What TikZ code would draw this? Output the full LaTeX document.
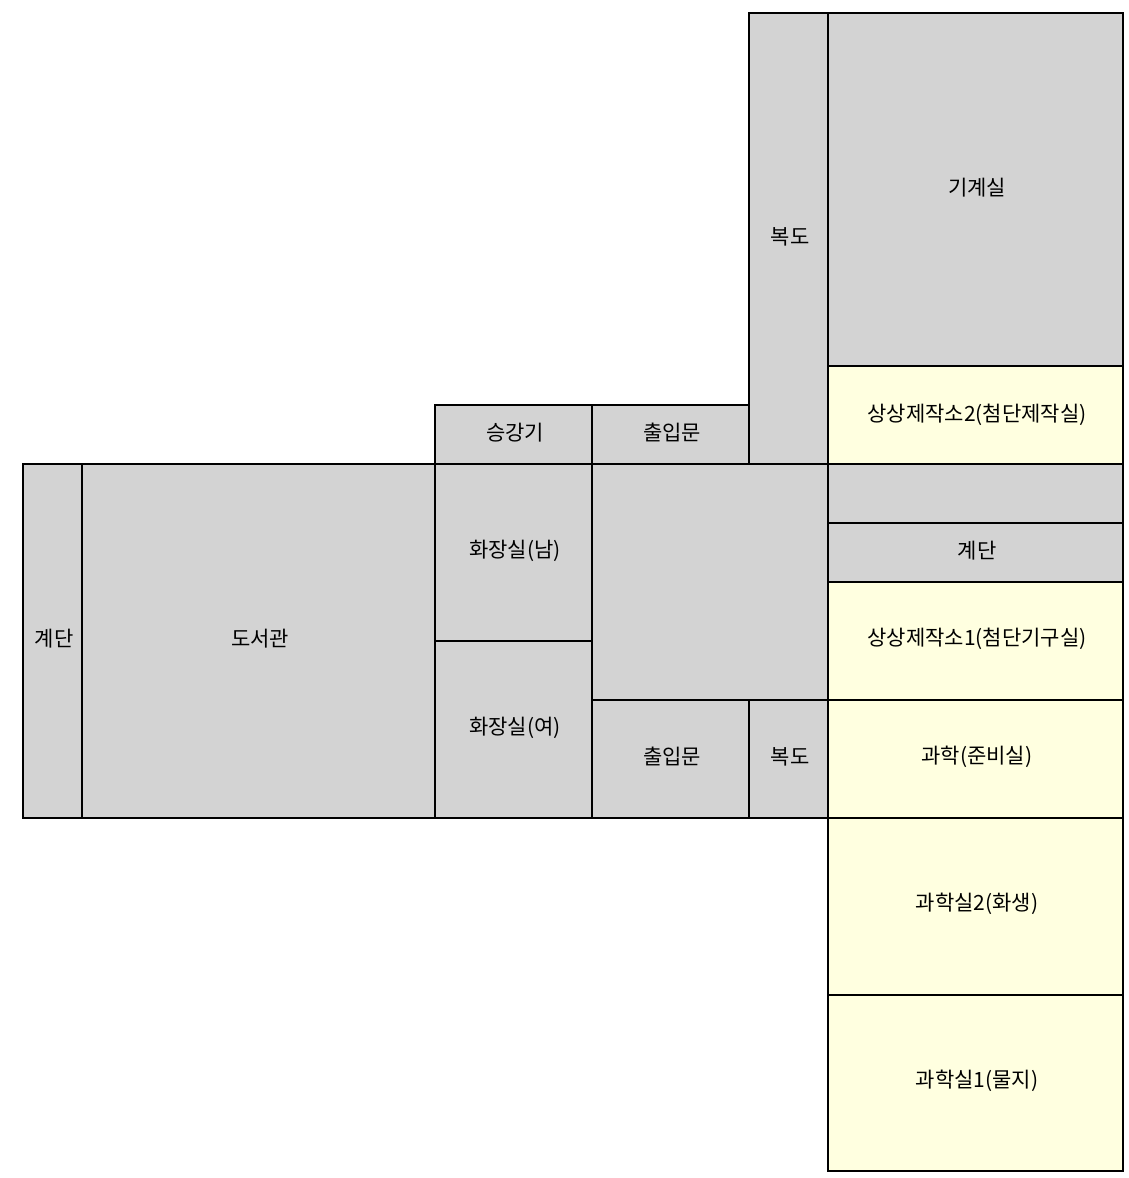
\documentclass[tikz,border=0pt]{standalone}
\usepackage{fontspec}
\setmainfont{Noto Sans CJK KR}
\definecolor{roomgray}{HTML}{D3D3D3}
\definecolor{labyellow}{HTML}{FFFFE0}
\tikzset{
    x=1pt,y=-1pt,
    room/.style={draw=black,line width=1.5pt,fill=roomgray},
    lab/.style={room,fill=labyellow},
    roomlabel/.style={font=\fontsize{21}{24}\selectfont,text=black,xshift=1.5pt,yshift=-1.5pt}
}
\begin{document}
\begin{tikzpicture}
    \useasboundingbox (0,0) rectangle (1128,1178);
    % gray rooms
    \draw[room] (749,13) rectangle (828,464);
    \draw[room] (828,13) rectangle (1123,366);
    \draw[room] (435,405) rectangle (592,464);
    \draw[room] (592,405) rectangle (749,464);
    \draw[room] (23,464) rectangle (82,818);
    \draw[room] (82,464) rectangle (435,818);
    \draw[room] (435,464) rectangle (592,641);
    \draw[room] (435,641) rectangle (592,818);
    \draw[room] (592,464) rectangle (828,700);
    \draw[room] (828,464) rectangle (1123,523);
    \draw[room] (828,523) rectangle (1123,582);
    \draw[room] (592,700) rectangle (749,818);
    \draw[room] (749,700) rectangle (828,818);
    % yellow rooms
    \draw[lab] (828,366) rectangle (1123,464);
    \draw[lab] (828,582) rectangle (1123,700);
    \draw[lab] (828,700) rectangle (1123,818);
    \draw[lab] (828,818) rectangle (1123,995);
    \draw[lab] (828,995) rectangle (1123,1171);
    % labels
    \node[roomlabel] (boiler) at (975.5,186) {기계실};
    \node[roomlabel] (hallup) at (788.5,235) {복도};
    \node[roomlabel] (lift) at (513.5,431) {승강기};
    \node[roomlabel] (doorup) at (670.5,431) {출입문};
    \node[roomlabel] (make2) at (975.5,413) {상상제작소2(첨단제작실)};
    \node[roomlabel] (stairr) at (975.5,549) {계단};
    \node[roomlabel] (stairl) at (52.5,637) {계단};
    \node[roomlabel] (library) at (258.5,637) {도서관};
    \node[roomlabel] (wcm) at (513.5,549) {화장실(남)};
    \node[roomlabel] (wcf) at (513.5,726) {화장실(여)};
    \node[roomlabel] (make1) at (975.5,637) {상상제작소1(첨단기구실)};
    \node[roomlabel] (doordown) at (670.5,755) {출입문};
    \node[roomlabel] (halldown) at (788.5,755) {복도};
    \node[roomlabel] (prep) at (975.5,755) {과학(준비실)};
    \node[roomlabel] (sci2) at (975.5,902) {과학실2(화생)};
    \node[roomlabel] (sci1) at (975.5,1079) {과학실1(물지)};
\end{tikzpicture}
\end{document}
